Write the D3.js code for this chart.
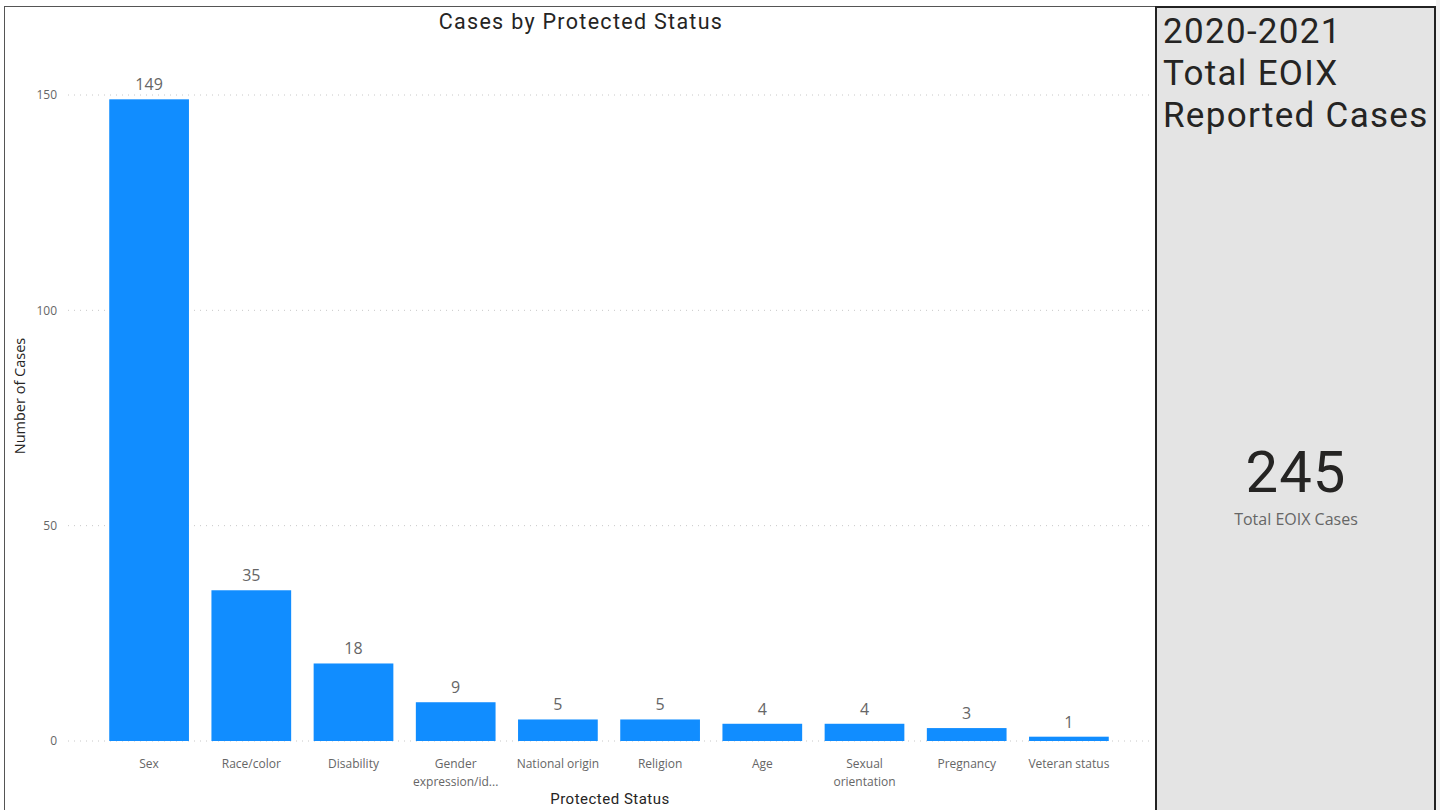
<!DOCTYPE html>
<html><head><meta charset="utf-8">
<script src="https://cdn.jsdelivr.net/npm/d3@7"></script>
<style>
html,body{margin:0;padding:0;background:#fff;}
svg{display:block;}
</style></head>
<body>
<svg id="c" width="1440" height="810"></svg>
<script>
const categories = ["Sex","Race/color","Disability","Gender expression/identity","National origin","Religion","Age","Sexual orientation","Pregnancy","Veteran status"];
const tickLabels = [["Sex"],["Race/color"],["Disability"],["Gender","expression/id..."],["National origin"],["Religion"],["Age"],["Sexual","orientation"],["Pregnancy"],["Veteran status"]];
const values = [149,35,18,9,5,5,4,4,3,1];
const yTicks = [0,50,100,150];
const chartTitle = "Cases by Protected Status";
const xTitle = "Protected Status";
const yTitle = "Number of Cases";
const cardTitle = ["2020-2021","Total EOIX","Reported Cases"];
const total = 245;
const totalLabel = "Total EOIX Cases";

const svg = d3.select("#c");
const din = "Roboto, 'DejaVu Sans', sans-serif";
const seg = "'Open Sans', 'Noto Sans', sans-serif";

// panels
svg.append("rect").attr("x",4.5).attr("y",6.5).attr("width",1151).attr("height",820)
  .attr("fill","#fff").attr("stroke","#555").attr("stroke-width",1);
svg.append("rect").attr("x",1156).attr("y",7).attr("width",279).attr("height",820)
  .attr("fill","#e4e4e4").attr("stroke","#222").attr("stroke-width",2);
svg.append("rect").attr("x",1436).attr("y",0).attr("width",4).attr("height",810).attr("fill","#f0f0f0");

const x = d3.scaleBand().domain(categories).range([98,1120]).paddingInner(0.22).paddingOuter(0.11);
const y = d3.scaleLinear().domain([0,150]).range([741,95]);

// grid
svg.append("g").selectAll("line").data(yTicks).join("line")
  .attr("x1",68).attr("x2",1150).attr("y1",d=>y(d)).attr("y2",d=>y(d))
  .attr("stroke","#c8c8c8").attr("stroke-width",1).attr("stroke-dasharray","1,5");

// y tick labels
svg.append("g").selectAll("text").data(yTicks).join("text")
  .attr("x",57).attr("y",d=>y(d)).attr("dy","0.35em").attr("text-anchor","end")
  .attr("font-family",seg).attr("font-size",12).attr("fill","#666").text(d=>d);

// bars
svg.append("g").selectAll("rect").data(values).join("rect")
  .attr("x",(d,i)=>x(categories[i])).attr("width",x.bandwidth())
  .attr("y",d=>y(d)).attr("height",d=>y(0)-y(d)).attr("fill","#118DFF");

// value labels
svg.append("g").selectAll("text").data(values).join("text")
  .attr("x",(d,i)=>x(categories[i])+x.bandwidth()/2).attr("y",d=>y(d)-9)
  .attr("text-anchor","middle").attr("font-family",seg).attr("font-size",16).attr("fill","#666").text(d=>d);

// x labels
const xl = svg.append("g").selectAll("text").data(tickLabels).join("text")
  .attr("x",(d,i)=>x(categories[i])+x.bandwidth()/2).attr("y",768)
  .attr("text-anchor","middle").attr("font-family",seg).attr("font-size",12).attr("fill","#666");
xl.each(function(d){
  const t=d3.select(this);
  d.forEach((s,j)=>t.append("tspan").attr("x",t.attr("x")).attr("dy",j?18:0).text(s));
});

// titles
svg.append("text").attr("x",581).attr("y",29).attr("text-anchor","middle")
  .attr("font-family",din).attr("font-size",21.5).attr("letter-spacing",1.3)
  .attr("fill","#252423").text(chartTitle);
svg.append("text").attr("x",610).attr("y",804).attr("text-anchor","middle")
  .attr("font-family",din).attr("font-size",15).attr("letter-spacing",0.5)
  .attr("fill","#252423").text(xTitle);
svg.append("text").attr("transform","translate(25,396) rotate(-90)").attr("text-anchor","middle")
  .attr("font-family",seg).attr("font-size",14.5).attr("fill","#252423").text(yTitle);

// card
svg.append("g").selectAll("text").data(cardTitle).join("text")
  .attr("x",1163).attr("y",(d,i)=>43+i*42)
  .attr("font-family",din).attr("font-size",35).attr("letter-spacing",1.3)
  .attr("fill","#252423").text(d=>d);
svg.append("text").attr("x",1296).attr("y",492).attr("text-anchor","middle")
  .attr("font-family",din).attr("font-size",58).attr("letter-spacing",1)
  .attr("fill","#252423").text(total);
svg.append("text").attr("x",1296).attr("y",525).attr("text-anchor","middle")
  .attr("font-family",seg).attr("font-size",16).attr("fill","#666").text(totalLabel);
</script>
</body></html>
